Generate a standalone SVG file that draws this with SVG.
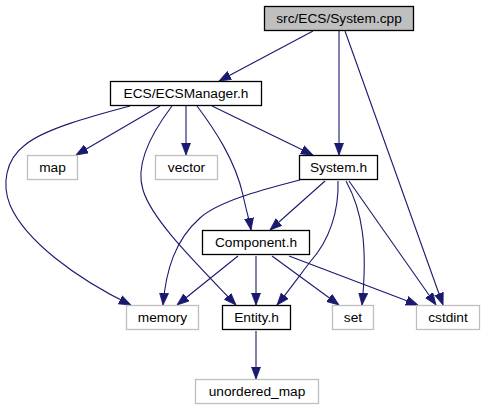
<svg xmlns="http://www.w3.org/2000/svg" width="484" height="411" viewBox="0 0 484 411">
<style>
.n rect{fill:#ffffff;stroke:#000000;stroke-width:1.3}
.n.ext rect{stroke:#bfbfbf}
.n.root rect{fill:#bfbfbf}
.n text{font-family:"Liberation Sans",Arial,sans-serif;font-size:13.7px;text-anchor:middle;fill:#000000}
#edges path{fill:none;stroke:#191970;stroke-width:1.1;marker-end:url(#ah)}
</style>
<defs>
<marker id="ah" markerUnits="userSpaceOnUse" markerWidth="12" markerHeight="10" viewBox="0 0 12 10" refX="12" refY="5" orient="auto">
<path d="M0,0.5 L12,5 L0,9.5 z" fill="#191970" stroke="#191970" stroke-width="0.8"/>
</marker>
</defs>
<rect width="484" height="411" fill="#ffffff"/>
<g id="edges">
<path d="M313,31 L219,81"/>
<path d="M339,31 L339,155"/>
<path d="M345,31 L443,305"/>
<path d="M160,106 L76,155"/>
<path d="M186,106 L186,155"/>
<path d="M212,106 L313,155"/>
<path d="M130,106 C100,114 45,128 25,145 C5,160 2,185 10,205 C25,240 75,278 131,305"/>
<path d="M172,106 C150,135 135,165 143,190 C152,220 195,262 236,305"/>
<path d="M197,106 C215,130 235,160 243,195 C246,210 249,218 251,230"/>
<path d="M300,180 C270,188 220,200 200,218 C175,240 166,270 163,305"/>
<path d="M325,181 L270,230"/>
<path d="M338,181 C339,210 330,240 310,262 C300,275 288,292 277,305"/>
<path d="M346,181 C362,210 368,245 362,305"/>
<path d="M349,181 L436,305"/>
<path d="M238,256 L177,305"/>
<path d="M256,256 L256,305"/>
<path d="M272,256 L339,305"/>
<path d="M289,256 L418,305"/>
<path d="M256,331 L256,379"/>
</g>
<g id="node-system-cpp" class="n root"><rect x="264.5" y="6.5" width="149" height="24"/><text x="339" y="23">src/ECS/System.cpp</text></g>
<g id="node-ecsmanager" class="n"><rect x="110.5" y="81.5" width="151" height="24"/><text x="186" y="98">ECS/ECSManager.h</text></g>
<g id="node-map" class="n ext"><rect x="27.5" y="155.5" width="50" height="24"/><text x="52.5" y="172">map</text></g>
<g id="node-vector" class="n ext"><rect x="155.5" y="155.5" width="62" height="24"/><text x="186.5" y="172">vector</text></g>
<g id="node-system-h" class="n"><rect x="299.5" y="155.5" width="78" height="24"/><text x="338.5" y="172">System.h</text></g>
<g id="node-component" class="n"><rect x="202.5" y="230.5" width="107" height="24"/><text x="256" y="247">Component.h</text></g>
<g id="node-memory" class="n ext"><rect x="126.5" y="305.5" width="72" height="24"/><text x="162.5" y="322">memory</text></g>
<g id="node-entity" class="n"><rect x="222.5" y="305.5" width="68" height="24"/><text x="256.5" y="322">Entity.h</text></g>
<g id="node-set" class="n ext"><rect x="332.5" y="305.5" width="41" height="24"/><text x="353" y="322">set</text></g>
<g id="node-cstdint" class="n ext"><rect x="416.5" y="305.5" width="63" height="24"/><text x="448" y="322">cstdint</text></g>
<g id="node-unordered-map" class="n ext"><rect x="195.5" y="379.5" width="123" height="24"/><text x="257" y="396">unordered_map</text></g>
</svg>
